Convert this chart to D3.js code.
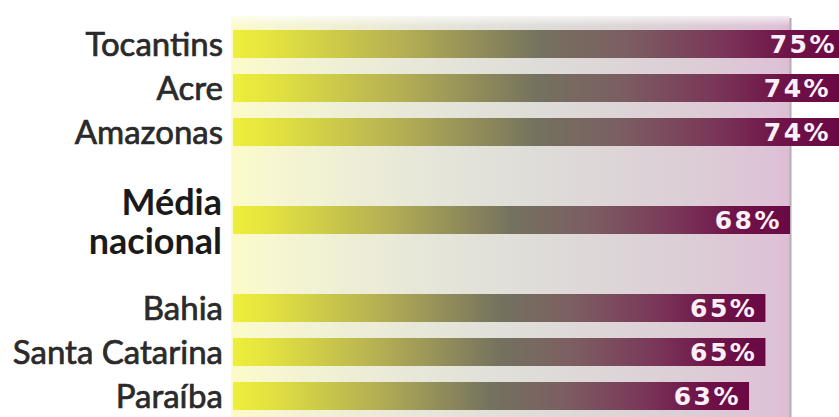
<!DOCTYPE html>
<html>
<head>
<meta charset="utf-8">
<script src="https://cdn.jsdelivr.net/npm/d3@7"></script>
<style>
  html, body { margin: 0; padding: 0; background: #ffffff; }
  svg { display: block; }
</style>
</head>
<body>
<svg id="chart" width="839" height="417"></svg>
<script>
// ---- data ----
const categories = ["Tocantins", "Acre", "Amazonas", "Média nacional", "Bahia", "Santa Catarina", "Paraíba"];
const values = [75, 74, 74, 68, 65, 65, 63];
const valueLabels = ["75%", "74%", "74%", "68%", "65%", "65%", "63%"];
const highlight = "Média nacional";
// row slots (blank spacers around the national average)
const rowSlots = ["Tocantins", "Acre", "Amazonas", "_gap1", "Média nacional", "_gap2", "Bahia", "Santa Catarina", "Paraíba"];

// ---- layout ----
const W = 839, H = 417;
const svg = d3.select("#chart");
const defs = svg.append("defs");

const x = d3.scaleLinear().domain([0, 68]).range([233, 790]);
const y = d3.scaleBand().domain(rowSlots).range([30, 410]).paddingInner(16 / 44).paddingOuter(0);

// panel gradient
const pg = defs.append("linearGradient").attr("id", "panelGrad").attr("x1", 0).attr("x2", 1).attr("y1", 0).attr("y2", 0);
[[0, "#fbfbc8"], [0.08, "#f6f6d2"], [0.35, "#e6e6da"], [0.55, "#dedcd8"], [0.8, "#dccfd6"], [0.97, "#dec2d6"], [1, "#ddbcd3"]]
  .forEach(([o, c]) => pg.append("stop").attr("offset", o).attr("stop-color", c));

// top fade
const tf = defs.append("linearGradient").attr("id", "topFade").attr("x1", 0).attr("x2", 0).attr("y1", 0).attr("y2", 1);
tf.append("stop").attr("offset", 0).attr("stop-color", "#fff").attr("stop-opacity", 1);
tf.append("stop").attr("offset", 1).attr("stop-color", "#fff").attr("stop-opacity", 0);

// bar gradient
const bg = defs.append("linearGradient").attr("id", "barGrad").attr("x1", 0).attr("x2", 1).attr("y1", 0).attr("y2", 0);
[[0, "#eeee3c"], [0.06, "#e4e440"], [0.28, "#b4ae54"], [0.5, "#74725f"], [0.64, "#7c5e62"], [0.8, "#7a3558"], [0.9, "#6f1449"], [1, "#6a0844"]]
  .forEach(([o, c]) => bg.append("stop").attr("offset", o).attr("stop-color", c));

const panelX0 = 231, panelX1 = x(values[categories.indexOf(highlight)]);
svg.append("rect")
  .attr("x", panelX0).attr("y", 16)
  .attr("width", panelX1 - panelX0).attr("height", H - 16)
  .attr("fill", "url(#panelGrad)");
svg.append("rect")
  .attr("x", panelX0).attr("y", 12)
  .attr("width", panelX1 - panelX0 + 3).attr("height", 14)
  .attr("fill", "url(#topFade)");
svg.append("line")
  .attr("x1", panelX1 + 0.5).attr("x2", panelX1 + 0.5)
  .attr("y1", 18).attr("y2", H)
  .attr("stroke", "#b4acb4").attr("stroke-width", 2);

const data = categories.map((c, i) => ({ cat: c, value: values[i], label: valueLabels[i] }));

// bars
svg.append("g").selectAll("rect").data(data).join("rect")
  .attr("x", x(0))
  .attr("y", d => y(d.cat))
  .attr("width", d => x(d.value) - x(0))
  .attr("height", y.bandwidth())
  .attr("fill", "url(#barGrad)");

// value labels
svg.append("g").selectAll("text").data(data).join("text")
  .attr("x", d => Math.min(x(d.value) - 8, W - 2))
  .attr("y", d => y(d.cat) + y.bandwidth() / 2 + 9)
  .attr("text-anchor", "end")
  .attr("font-family", "'DejaVu Sans', sans-serif")
  .attr("font-weight", "bold")
  .attr("font-size", 25)
  .attr("letter-spacing", 2.5)
  .attr("fill", "#fbf0f8")
  .text(d => d.label);

// category labels
const lab = svg.append("g");
data.forEach(d => {
  const cy = y(d.cat) + y.bandwidth() / 2;
  if (d.cat === highlight) {
    const parts = ["Média", "nacional"];
    const t = lab.append("text")
      .attr("text-anchor", "end")
      .attr("font-family", "Lato, 'Open Sans', sans-serif")
      .attr("font-weight", "bold")
      .attr("font-size", 36)
      .attr("fill", "#1a1a1a");
    t.append("tspan").attr("x", 222).attr("y", cy - 5).text(parts[0]);
    t.append("tspan").attr("x", 222).attr("y", cy + 34).text(parts[1]);
  } else {
    lab.append("text")
      .attr("x", 223)
      .attr("y", cy + 12)
      .attr("text-anchor", "end")
      .attr("font-family", "Lato, 'Open Sans', sans-serif")
      .attr("font-size", 33)
      .attr("fill", "#2a2a2a")
      .attr("stroke", "#2a2a2a")
      .attr("stroke-width", 0.7)
      .text(d.cat);
  }
});
</script>
</body>
</html>
